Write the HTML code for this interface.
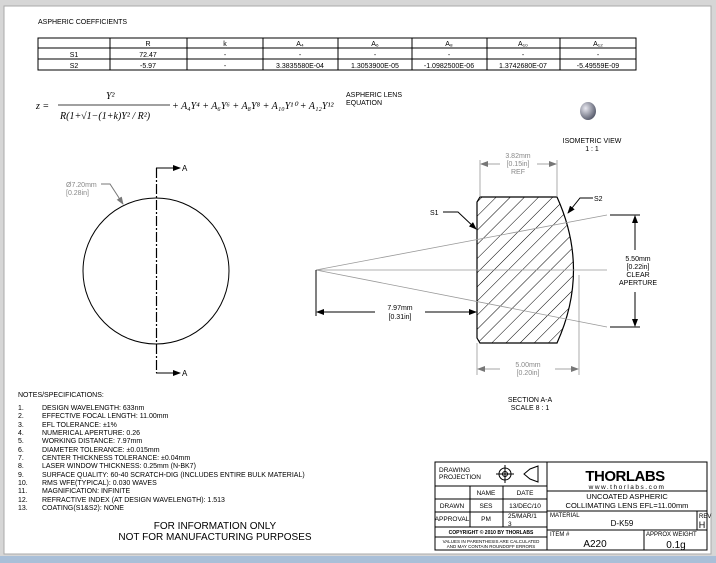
<!DOCTYPE html>
<html><head><style>
body{margin:0;background:#d9d9d9;}
svg{display:block;font-family:"Liberation Sans",sans-serif;}
</style></head><body>
<svg width="716" height="563" viewBox="0 0 716 563" xmlns="http://www.w3.org/2000/svg">
<defs>
<marker id="ar" markerWidth="8" markerHeight="6" refX="7" refY="3" orient="auto" markerUnits="userSpaceOnUse"><path d="M0,0 L8,3 L0,6 z" fill="#000"/></marker>
<marker id="ag" markerWidth="8" markerHeight="6" refX="7" refY="3" orient="auto" markerUnits="userSpaceOnUse"><path d="M0,0 L8,3 L0,6 z" fill="#777"/></marker>
<pattern id="hatch" width="10" height="10" patternUnits="userSpaceOnUse" patternTransform="rotate(45)"><line x1="0" y1="0" x2="0" y2="10" stroke="#000" stroke-width="1"/></pattern>
<radialGradient id="sph" cx="0.35" cy="0.35" r="0.7"><stop offset="0" stop-color="#e8e8f0"/><stop offset="1" stop-color="#55596a"/></radialGradient>
</defs>
<rect x="0" y="0" width="716" height="563" fill="#d6d6d6"/>
<rect x="4" y="6" width="707" height="548" fill="#fff" stroke="#aaa"/>
<rect x="0" y="556" width="716" height="7" fill="#a9bfd8"/>

<g font-size="7" fill="#000">
<text x="38" y="24">ASPHERIC COEFFICIENTS</text>
<g stroke="#000" stroke-width="1" fill="none">
<rect x="38" y="38" width="598" height="32"/>
<line x1="38" y1="48" x2="636" y2="48"/><line x1="38" y1="59" x2="636" y2="59"/>
<line x1="110" y1="38" x2="110" y2="70"/><line x1="187" y1="38" x2="187" y2="70"/>
<line x1="263" y1="38" x2="263" y2="70"/><line x1="338" y1="38" x2="338" y2="70"/>
<line x1="412" y1="38" x2="412" y2="70"/><line x1="487" y1="38" x2="487" y2="70"/>
<line x1="560" y1="38" x2="560" y2="70"/>
</g>
<g text-anchor="middle">
<text x="148" y="46">R</text><text x="225" y="46">k</text>
<text x="300" y="46">A₄</text><text x="375" y="46">A₆</text><text x="449" y="46">A₈</text><text x="523" y="46">A₁₀</text><text x="598" y="46">A₁₂</text>
<text x="74" y="57">S1</text><text x="148" y="57">72.47</text><text x="225" y="57">-</text><text x="300" y="57">-</text><text x="375" y="57">-</text><text x="449" y="57">-</text><text x="523" y="57">-</text><text x="598" y="57">-</text>
<text x="74" y="68">S2</text><text x="148" y="68">-5.97</text><text x="225" y="68">-</text><text x="300" y="68">3.3835580E-04</text><text x="375" y="68">1.3053900E-05</text><text x="449" y="68">-1.0982500E-06</text><text x="523" y="68">1.3742680E-07</text><text x="598" y="68">-5.49559E-09</text>
</g>
</g>

<g font-family="Liberation Serif,serif" font-style="italic" font-size="10">
<text x="36" y="109">z =</text>
<text x="106" y="99">Y²</text>
<line x1="58" y1="105" x2="170" y2="105" stroke="#000" stroke-width="0.7"/>
<text x="60" y="119">R(1+√1−(1+k)Y² / R²)</text>
<text x="172" y="109">+ A₄Y⁴ + A₆Y⁶ + A₈Y⁸ + A₁₀Y¹⁰ + A₁₂Y¹²</text>
</g>
<text x="346" y="97" font-size="7">ASPHERIC LENS</text>
<text x="346" y="105" font-size="7">EQUATION</text>

<ellipse cx="588" cy="111" rx="8" ry="9" fill="url(#sph)"/>
<text x="592" y="143" font-size="7" text-anchor="middle">ISOMETRIC VIEW</text>
<text x="592" y="151" font-size="7" text-anchor="middle">1 : 1</text>

<!-- circle view -->
<circle cx="156" cy="271" r="73" fill="none" stroke="#000" stroke-width="1"/>
<path d="M156.5,168 V373" fill="none" stroke="#000" stroke-width="1.2" stroke-dasharray="10,2,2,2"/>
<path d="M156,168 H180" stroke="#000" marker-end="url(#ar)"/>
<path d="M156,373 H180" stroke="#000" marker-end="url(#ar)"/>
<text x="182" y="171" font-size="8">A</text><text x="182" y="376" font-size="8">A</text>
<text x="66" y="187" font-size="7" fill="#888">Ø7.20mm</text>
<text x="66" y="195" font-size="7" fill="#888">[0.28in]</text>
<path d="M101,184 H110 L123,204" fill="none" stroke="#777" marker-end="url(#ag)"/>

<!-- section -->
<path d="M480,197 L557,197 Q590,270 557,343 L480,343 L477,338 L477,202 Z" fill="url(#hatch)" stroke="#000" stroke-width="1.2"/>
<g stroke="#999" stroke-width="0.8">
<line x1="316" y1="270" x2="607" y2="215"/>
<line x1="316" y1="270" x2="607" y2="327"/>
<line x1="316" y1="270" x2="607" y2="270"/>
</g>
<g stroke="#888" stroke-width="0.7" fill="none">
<line x1="480" y1="160" x2="480" y2="197"/><line x1="557" y1="160" x2="557" y2="197"/>
<path d="M500,164 H481" marker-end="url(#ag)"/><path d="M537,164 H556" marker-end="url(#ag)"/>
<line x1="477" y1="343" x2="477" y2="375"/><line x1="579" y1="275" x2="579" y2="375"/>
<path d="M500,369 H478" marker-end="url(#ag)"/><path d="M555,369 H578" marker-end="url(#ag)"/>
</g>
<g font-size="7" fill="#888" text-anchor="middle">
<text x="518" y="158">3.82mm</text><text x="518" y="166">[0.15in]</text><text x="518" y="174">REF</text>
<text x="528" y="367">5.00mm</text><text x="528" y="375">[0.20in]</text>
</g>
<g stroke="#000" stroke-width="1" fill="none">
<line x1="610" y1="215" x2="640" y2="215"/><line x1="610" y1="327" x2="640" y2="327"/>
<path d="M635,250 V216" marker-end="url(#ar)"/><path d="M635,292 V326" marker-end="url(#ar)"/>
<line x1="316" y1="270" x2="316" y2="316"/>
<path d="M375,312 H317" marker-end="url(#ar)"/><path d="M425,312 H476" marker-end="url(#ar)"/>
<path d="M443,212 H458 L476,229" marker-end="url(#ar)"/>
<path d="M593,198 H580 L568,213" marker-end="url(#ar)"/>
</g>
<g font-size="7" text-anchor="middle">
<text x="638" y="261">5.50mm</text><text x="638" y="269">[0.22in]</text><text x="638" y="277">CLEAR</text><text x="638" y="285">APERTURE</text>
<text x="400" y="310">7.97mm</text><text x="400" y="319">[0.31in]</text>
<text x="530" y="402">SECTION A-A</text><text x="530" y="410">SCALE 8 : 1</text>
</g>
<text x="430" y="215" font-size="7">S1</text>
<text x="594" y="201" font-size="7">S2</text>

<!-- notes -->
<g font-size="7">
<text x="18" y="397">NOTES/SPECIFICATIONS:</text>
<g>
<text x="18" y="410">1.</text><text x="42" y="410">DESIGN WAVELENGTH: 633nm</text>
<text x="18" y="418">2.</text><text x="42" y="418">EFFECTIVE FOCAL LENGTH: 11.00mm</text>
<text x="18" y="427">3.</text><text x="42" y="427">EFL TOLERANCE:  ±1%</text>
<text x="18" y="435">4.</text><text x="42" y="435">NUMERICAL APERTURE: 0.26</text>
<text x="18" y="443">5.</text><text x="42" y="443">WORKING DISTANCE: 7.97mm</text>
<text x="18" y="452">6.</text><text x="42" y="452">DIAMETER TOLERANCE: ±0.015mm</text>
<text x="18" y="460">7.</text><text x="42" y="460">CENTER THICKNESS TOLERANCE:  ±0.04mm</text>
<text x="18" y="468">8.</text><text x="42" y="468">LASER WINDOW THICKNESS: 0.25mm (N-BK7)</text>
<text x="18" y="477">9.</text><text x="42" y="477">SURFACE QUALITY: 60-40 SCRATCH-DIG (INCLUDES ENTIRE BULK MATERIAL)</text>
<text x="18" y="485">10.</text><text x="42" y="485">RMS WFE(TYPICAL): 0.030 WAVES</text>
<text x="18" y="493">11.</text><text x="42" y="493">MAGNIFICATION: INFINITE</text>
<text x="18" y="502">12.</text><text x="42" y="502">REFRACTIVE INDEX (AT DESIGN WAVELENGTH): 1.513</text>
<text x="18" y="510">13.</text><text x="42" y="510">COATING(S1&amp;S2): NONE</text>
</g>
<text x="215" y="529" font-size="10" text-anchor="middle">FOR INFORMATION ONLY</text>
<text x="215" y="540" font-size="10" text-anchor="middle">NOT FOR MANUFACTURING PURPOSES</text>
</g>

<!-- title block -->
<g stroke="#000" stroke-width="1" fill="none">
<rect x="435" y="462" width="272" height="88"/>
<line x1="547" y1="462" x2="547" y2="550"/>
<line x1="435" y1="486" x2="547" y2="486"/><line x1="435" y1="499" x2="547" y2="499"/>
<line x1="435" y1="512" x2="547" y2="512"/><line x1="435" y1="527" x2="547" y2="527"/>
<line x1="435" y1="537" x2="547" y2="537"/>
<line x1="470" y1="486" x2="470" y2="527"/><line x1="503" y1="486" x2="503" y2="527"/>
<line x1="547" y1="491" x2="707" y2="491"/><line x1="547" y1="511" x2="707" y2="511"/>
<line x1="547" y1="530" x2="707" y2="530"/>
<line x1="697" y1="511" x2="697" y2="530"/><line x1="644" y1="530" x2="644" y2="550"/>
<circle cx="505" cy="474" r="6"/><circle cx="505" cy="474" r="2.5"/>
<line x1="496" y1="474" x2="514" y2="474"/><line x1="505" y1="465" x2="505" y2="483"/>
<path d="M524,474 L530,469 L538,466 V482 L530,479 Z"/>
</g>
<g font-size="6.5">
<text x="439" y="472">DRAWING</text><text x="439" y="479">PROJECTION</text>
<text x="486" y="495" text-anchor="middle">NAME</text><text x="525" y="495" text-anchor="middle">DATE</text>
<text x="452" y="508" text-anchor="middle">DRAWN</text><text x="486" y="508" text-anchor="middle">SES</text><text x="525" y="508" text-anchor="middle">13/DEC/10</text>
<text x="452" y="521" text-anchor="middle">APPROVAL</text><text x="486" y="521" text-anchor="middle">PM</text><text x="508" y="518">25/MAR/1</text><text x="508" y="526">3</text>
<text x="491" y="534" text-anchor="middle" font-size="5" font-weight="bold">COPYRIGHT © 2010 BY THORLABS</text>
<text x="491" y="543" text-anchor="middle" font-size="4.5">VALUES IN PARENTHESIS ARE CALCULATED</text>
<text x="491" y="548" text-anchor="middle" font-size="4.5">AND MAY CONTAIN ROUNDOFF ERRORS</text>
<text x="625" y="481" text-anchor="middle" font-size="15" font-weight="bold" letter-spacing="-0.5">THORLABS</text>
<text x="627" y="489" text-anchor="middle" font-size="6.5" letter-spacing="1.5">www.thorlabs.com</text>
<text x="627" y="499" text-anchor="middle" font-size="7.5">UNCOATED ASPHERIC</text>
<text x="627" y="508" text-anchor="middle" font-size="7.5">COLLIMATING LENS  EFL=11.00mm</text>
<text x="550" y="517" font-size="6">MATERIAL</text>
<text x="622" y="526" text-anchor="middle" font-size="8">D-K59</text>
<text x="699" y="518" font-size="6">REV</text><text x="702" y="528" text-anchor="middle" font-size="9">H</text>
<text x="550" y="536" font-size="6">ITEM #</text>
<text x="595" y="547" text-anchor="middle" font-size="10">A220</text>
<text x="646" y="536" font-size="6">APPROX WEIGHT</text>
<text x="676" y="548" text-anchor="middle" font-size="10">0.1g</text>
</g>
</svg>
</body></html>
